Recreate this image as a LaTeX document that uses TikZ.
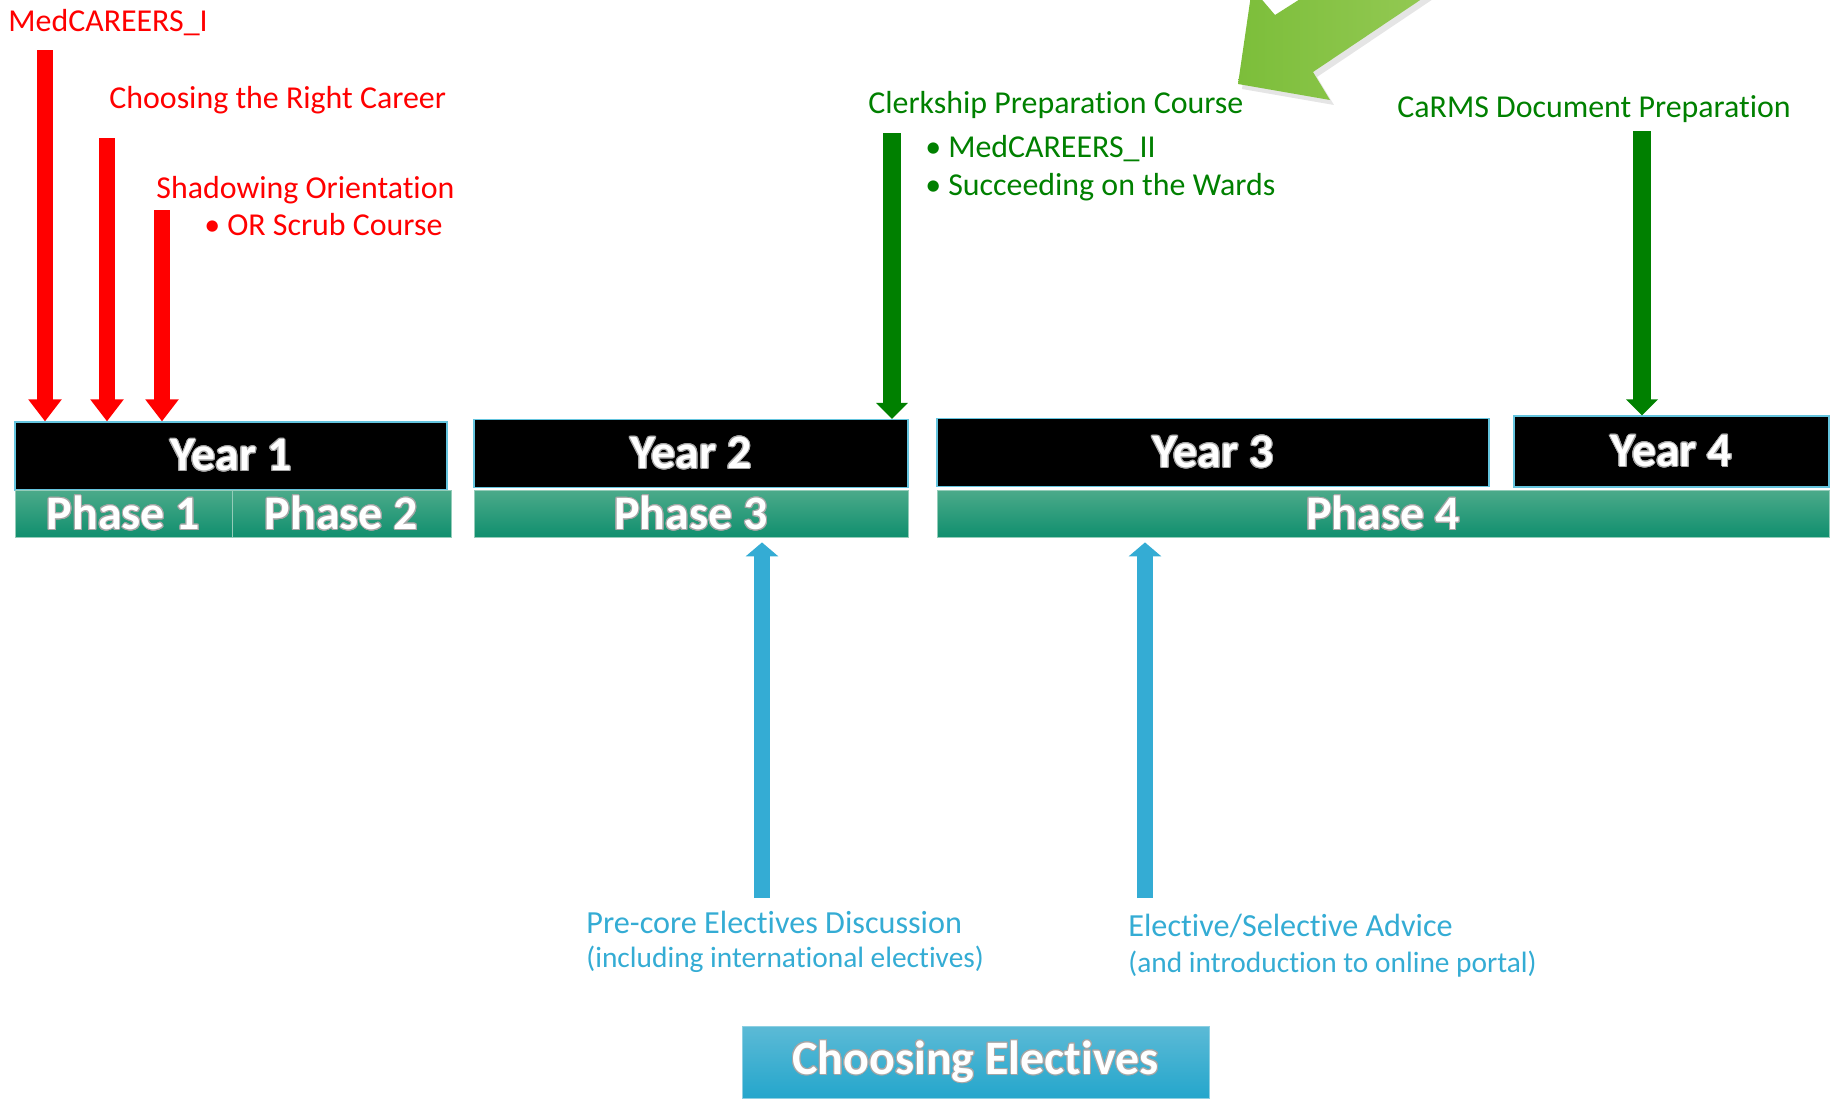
\documentclass[tikz,border=0pt]{standalone}
\usepackage{fontspec}
\setmainfont[Ligatures={NoCommon,NoContextual}]{Carlito}
\usepackage[copies]{contour}
\contourlength{0.5pt}
\usetikzlibrary{arrows.meta}
\definecolor{careerred}{RGB}{255,0,0}
\definecolor{clerkgreen}{RGB}{0,128,0}
\definecolor{electblue}{RGB}{52,172,212}
\definecolor{phasetop}{RGB}{76,170,138}
\definecolor{phasebottom}{RGB}{16,143,110}
\definecolor{yearedge}{RGB}{100,196,222}
\definecolor{electtop}{RGB}{92,186,214}
\definecolor{electbottom}{RGB}{36,166,204}
\definecolor{pointertop}{RGB}{124,190,58}
\definecolor{pointerbottom}{RGB}{150,202,86}
\newcommand{\labelsize}{\fontsize{15.95}{18}\selectfont}
\newcommand{\notesize}{\fontsize{14.7}{17}\selectfont}
\newcommand{\barsize}{\bfseries\fontsize{24}{24}\selectfont}
\newcommand{\glow}[1]{\contour{black!35}{#1}}
\tikzstyle{yearbox}=[draw=yearedge, line width=0.6pt, fill=black, text=white, inner sep=0, minimum height=34pt, font=\barsize]
\tikzstyle{phasebox}=[top color=phasetop, bottom color=phasebottom, draw=phasetop!60, line width=0.4pt, text=white, inner sep=0, minimum height=23.5pt, font=\barsize]
\tikzstyle{eventlabel}=[anchor=base west, inner sep=0, font=\labelsize]
\tikzstyle{redarrow}=[careerred, line width=8pt, -{Triangle[width=16pt, length=11pt]}]
\tikzstyle{greenarrow}=[clerkgreen, line width=9pt, -{Triangle[width=15.5pt, length=8pt]}]
\tikzstyle{bluearrow}=[electblue, line width=8pt, -{Triangle[width=16pt, length=7pt]}, shorten >=2.5pt]

\begin{document}
\begin{tikzpicture}[x=0.5pt, y=-0.5pt]
    \useasboundingbox (0,0) rectangle (1832,1103);
    % pointer coming in from the top edge
    \begin{scope}
        \clip (0,0) rectangle (1832,1103);
        \fill[black, opacity=0.1] ([shift={(4,5)}]1238,84) -- ++(92,16) -- ++(-17,-28) -- ++(137,-92) -- ++(-120,0) -- ++(-55,35) -- ++(-23,-27) -- cycle;
        \shade[left color=pointertop, right color=pointerbottom] (1238,84) -- (1330,100) -- (1313,72) -- (1450,-20) -- (1330,-20) -- (1275,15) -- (1252,-12) -- cycle;
    \end{scope}

    \node[yearbox, minimum width=216pt] (year1) at (231,456) {\glow{Year 1}};
    \node[phasebox, minimum width=108.5pt] (phase1) at (123.5,513.5) {\glow{Phase 1}};
    \node[phasebox, minimum width=109.5pt] (phase2) at (341.5,513.5) {\glow{Phase 2}};
    \node[yearbox, minimum width=217pt] (year2) at (691,453.5) {\glow{Year 2}};
    \node[phasebox, minimum width=217pt] (phase3) at (691,513.5) {\glow{Phase 3}};
    \node[yearbox, minimum width=276pt] (year3) at (1213,452.5) {\glow{Year 3}};
    \node[yearbox, minimum width=157.5pt, minimum height=35.5pt] (year4) at (1671.5,451.5) {\glow{Year 4}};
    \node[phasebox, minimum width=446pt] (phase4) at (1383,513.5) {\glow{Phase 4}};

    \node[eventlabel, text=careerred] (medcareers) at (8,32) {MedCAREERS\_I};
    \node[eventlabel, text=careerred] (rightcareer) at (109,108) {Choosing the Right Career};
    \node[eventlabel, text=careerred] (shadowing) at (156,198) {Shadowing Orientation};
    \node[eventlabel, text=careerred] (scrub) at (204,235) {•\hspace{3.5pt}OR Scrub Course};
    \coordinate (mc1) at (45,50);
    \coordinate (mc2) at (107,138);
    \coordinate (mc3) at (162,210);
    \foreach \c in {mc1,mc2,mc3}
        \draw[redarrow] (\c) -- (\c |- year1.north);

    \node[eventlabel, text=clerkgreen] (clerkship) at (868,113) {Clerkship Preparation Course};
    \node[eventlabel, text=clerkgreen] (medcareers2) at (925,157) {•\hspace{3.5pt}MedCAREERS\_II};
    \node[eventlabel, text=clerkgreen] (wards) at (925,195) {•\hspace{3.5pt}Succeeding on the Wards};
    \node[eventlabel, text=clerkgreen] (carms) at (1397,117) {CaRMS Document Preparation};
    \coordinate (ck) at (892,133);
    \coordinate (cr) at (1642,131);
    \draw[greenarrow] (ck) -- (ck |- year2.north);
    \draw[greenarrow] (cr) -- (cr |- year4.north);

    \node[eventlabel, text=electblue, font=\fontsize{16.1}{18}\selectfont] (precore) at (586,933) {Pre-core Electives Discussion};
    \node[eventlabel, text=electblue, font=\notesize] (precorenote) at (586,967) {(including international electives)};
    \node[eventlabel, text=electblue, font=\fontsize{16.1}{18}\selectfont] (advice) at (1128,936) {Elective/Selective Advice};
    \node[eventlabel, text=electblue, font=\notesize] (advicenote) at (1128,972) {(and introduction to online portal)};
    \coordinate (pc) at (762,898);
    \coordinate (ad) at (1145,898);
    \draw[bluearrow] (pc) -- (pc |- phase3.south);
    \draw[bluearrow] (ad) -- (ad |- phase4.south);

    \node[top color=electtop, bottom color=electbottom, draw=electtop!70, text=white, inner sep=0, minimum width=233.5pt, minimum height=36pt, font=\barsize] (electives) at (975.5,1062) {\glow{Choosing Electives}};
\end{tikzpicture}
\end{document}
